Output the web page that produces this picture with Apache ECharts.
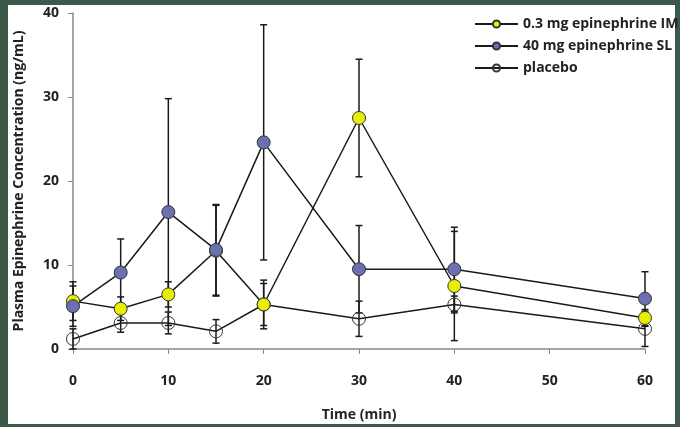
<!DOCTYPE html>
<html><head><meta charset="utf-8">
<script src="https://cdn.jsdelivr.net/npm/echarts@6/dist/echarts.min.js"></script>
<style>
html,body{margin:0;padding:0;background:#3b5849;}
#wrap{position:relative;width:680px;height:427px;overflow:hidden;}
#paper{position:absolute;left:8px;top:5px;width:667px;height:419px;background:#fff;}
#chart{position:absolute;left:0;top:0;width:680px;height:427px;}
</style></head>
<body><div id="wrap"><div id="paper"></div><div id="chart"></div></div>
<script>
const times = [0, 5, 10, 15, 20, 30, 40, 60];
const imMean = [5.7, 4.8, 6.5, 11.7, 5.3, 27.5, 7.5, 3.7];
const imErr  = [2.3, 1.4, 1.5, 5.4, 2.9, 7.0, 6.5, 1.0];
const slMean = [5.1, 9.1, 16.3, 11.8, 24.6, 9.5, 9.5, 6.0];
const slErr  = [2.4, 4.0, 13.5, 5.4, 14.0, 5.2, 5.0, 3.2];
const plMean = [1.2, 3.1, 3.1, 2.1, 5.3, 3.6, 5.3, 2.4];
const plErr  = [1.2, 1.1, 1.3, 1.4, 2.5, 2.1, 1.0, 2.1];
const seriesNames = ['0.3 mg epinephrine IM', '40 mg epinephrine SL', 'placebo'];

const FONT = 'Open Sans';
function pts(m){ return times.map((t,i)=>[t, m[i]]); }
function errs(m,e){ return times.map((t,i)=>[t, Math.max(0, m[i]-e[i]), m[i]+e[i]]); }
function errSeries(m,e){
  return {
    type:'custom', z:1, silent:true,
    data: errs(m,e),
    renderItem: function(params, api){
      const x = api.value(0);
      const lo = api.coord([x, api.value(1)]);
      const hi = api.coord([x, api.value(2)]);
      const w = 3.5;
      const st = {stroke:'#1a1a1a', lineWidth:1.5};
      return {type:'group', children:[
        {type:'line', shape:{x1:lo[0],y1:lo[1],x2:hi[0],y2:hi[1]}, style:st},
        {type:'line', shape:{x1:lo[0]-w,y1:lo[1],x2:lo[0]+w,y2:lo[1]}, style:st},
        {type:'line', shape:{x1:hi[0]-w,y1:hi[1],x2:hi[0]+w,y2:hi[1]}, style:st}
      ]};
    }
  };
}
function lineSeries(name, m, fill){
  return {
    name:name, type:'line', z:3, data:pts(m),
    symbol:'circle', symbolSize:13,
    lineStyle:{color:'#1a1a1a', width:1.5},
    itemStyle:{color:fill, borderColor:'#333', borderWidth:1},
    emphasis:{disabled:true}
  };
}
const chart = echarts.init(document.getElementById('chart'));
chart.setOption({
  animation:false,
  backgroundColor:'transparent',
  grid:{left:73, right:35, top:13, bottom:74},
  legend:{
    left:469, top:12, orient:'vertical', itemGap:8,
    itemWidth:43, itemHeight:9,
    textStyle:{fontFamily:FONT, fontWeight:'bold', fontSize:14, color:'#222'},
    data: seriesNames
  },
  xAxis:{
    type:'value', min:0, max:60, interval:10,
    name:'Time (min)', nameLocation:'middle', nameGap:59,
    nameTextStyle:{fontFamily:FONT, fontWeight:'bold', fontSize:14, color:'#222'},
    axisLine:{lineStyle:{color:'#888', width:1.5}},
    axisTick:{show:true, length:5, lineStyle:{color:'#888'}},
    axisLabel:{fontFamily:FONT, fontWeight:'bold', fontSize:14, color:'#222', margin:25},
    splitLine:{show:false}
  },
  yAxis:{
    type:'value', min:0, max:40, interval:10,
    name:'Plasma Epinephrine Concentration (ng/mL)', nameLocation:'middle', nameGap:47,
    nameTextStyle:{fontFamily:FONT, fontWeight:'bold', fontSize:14, color:'#222'},
    axisLine:{show:true, lineStyle:{color:'#888', width:1.5}},
    axisTick:{show:true, length:5, lineStyle:{color:'#888'}},
    axisLabel:{fontFamily:FONT, fontWeight:'bold', fontSize:14, color:'#222', margin:14},
    splitLine:{show:false}
  },
  series:[
    errSeries(plMean, plErr),
    errSeries(imMean, imErr),
    errSeries(slMean, slErr),
    lineSeries(seriesNames[2], plMean, 'rgba(255,255,255,0)'),
    lineSeries(seriesNames[0], imMean, '#e6f000'),
    lineSeries(seriesNames[1], slMean, '#6a70b2')
  ]
});
</script></body></html>
